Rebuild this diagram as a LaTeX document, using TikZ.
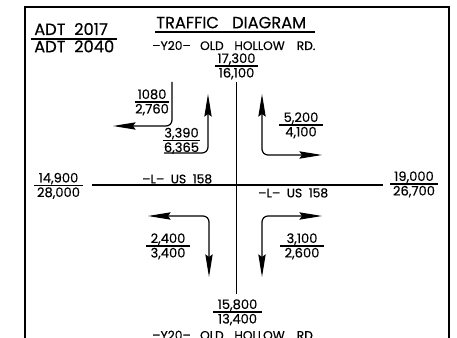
\documentclass[tikz,border=0pt]{standalone}
\usepackage{fontspec}
\setmainfont{Poppins}[FakeBold=0.35]
\usetikzlibrary{arrows.meta}
\newcommand\fracnum[6]{%
  \node[num] (#1-t) at (#2,#3-3) {#5};
  \node[num] (#1-b) at (#2,#3+11.5) {#6};
  \draw[fracline] (#2-#4,#3) -- (#2+#4,#3);}
\begin{document}
\begin{tikzpicture}[x=0.75pt,y=-0.75pt,
  frame/.style={line width=1.1pt},
  road/.style={line width=0.9pt},
  fracline/.style={line width=0.8pt},
  turn/.style={line width=0.9pt, rounded corners=4.5pt},
  tipE/.style={-{Stealth[length=17pt,width=5.5pt,inset=2pt]}},
  tipB/.style={{Stealth[length=17pt,width=5.5pt,inset=2pt]}-{Stealth[length=17pt,width=5.5pt,inset=2pt]}},
  num/.style={font=\fontsize{9.8}{11}\selectfont, inner sep=0pt, anchor=base},
  title/.style={font=\fontsize{12.2}{13}\selectfont, inner sep=0pt, anchor=base west},
  lab/.style={font=\fontsize{9.2}{10}\selectfont, inner sep=0pt, anchor=base west},
]
\clip (0,0) rectangle (457,338);
\fill[white] (0,0) rectangle (457,338);
% frame
\draw[frame] (25,340) -- (25,7) -- (449,7) -- (449,340);
% titles
\node[title] (adt1) at (34,35) {ADT\ \ 2017};
\draw[fracline] (31,39) -- (117,39);
\node[title] (adt2) at (34,52.3) {ADT\ \ 2040};
\node[title] (ttl) at (156,28.3) {TRAFFIC\hspace{10pt}DIAGRAM};
\draw[fracline] (155,32) -- (315,32);
\node[lab] (ytop) at (152,50) {–Y20–\hspace{7pt}OLD\hspace{8pt}HOLLOW\hspace{9pt}RD.};
\node[lab] (ybot) at (152,339.7) {–Y20–\hspace{7pt}OLD\hspace{8pt}HOLLOW\hspace{9pt}RD};
\node[lab] (usw) at (142,183.3) {–L–\ \ US\ \ 158};
\node[lab] (use) at (258,197.3) {–L–\ \ US\ \ 158};
% roads
\coordinate (rn) at (236.5,82);
\coordinate (rs) at (236.5,294);
\coordinate (rw) at (92,185);
\coordinate (re) at (383,185);
\draw[road] (rn) -- (rs);
\draw[road] (rw) -- (re);
% volumes
\fracnum{n}{236.5}{66}{21.5}{17,300}{16,100}
\fracnum{s}{237.5}{312}{24.5}{15,800}{13,400}
\fracnum{w}{58.5}{185.5}{24.5}{14,900}{28,000}
\fracnum{e}{414}{184}{24}{19,000}{26,700}
\fracnum{nwl}{152}{102}{17}{1080}{2,760}
\fracnum{nwr}{181.5}{140.5}{18.5}{3,390}{6,365}
\fracnum{ne}{301}{125}{22}{5,200}{4,100}
\fracnum{sw}{168}{246}{22}{2,400}{3,400}
\fracnum{se}{302}{246}{22}{3,100}{2,600}
% turning arrows
\coordinate (a1s) at (172,82);
\coordinate (a1c) at (172,126);
\coordinate (a1e) at (113,126);
\draw[turn,tipE] (a1s) -- (a1c) -- (a1e);
\coordinate (a2s) at (164,153);
\coordinate (a2c) at (208,153);
\coordinate (a2e) at (208,94);
\draw[turn,tipE] (a2s) -- (a2c) -- (a2e);
\coordinate (a3s) at (262,94);
\coordinate (a3c) at (262,155);
\coordinate (a3e) at (322,155);
\draw[turn,tipB] (a3s) -- (a3c) -- (a3e);
\coordinate (a4s) at (148,216);
\coordinate (a4c) at (209,216);
\coordinate (a4e) at (209,277);
\draw[turn,tipB] (a4s) -- (a4c) -- (a4e);
\coordinate (a5s) at (322,216);
\coordinate (a5c) at (262,216);
\coordinate (a5e) at (262,277);
\draw[turn,tipB] (a5s) -- (a5c) -- (a5e);
\end{tikzpicture}
\end{document}
